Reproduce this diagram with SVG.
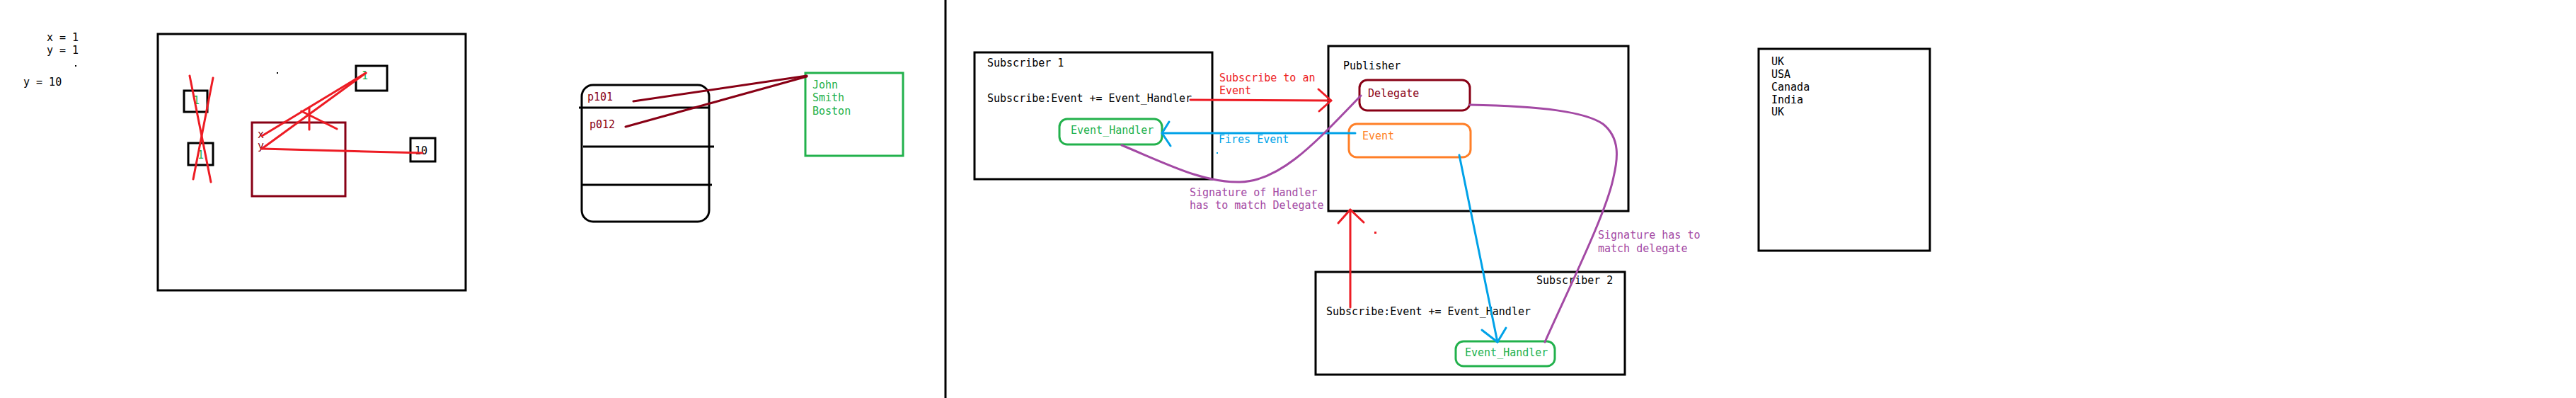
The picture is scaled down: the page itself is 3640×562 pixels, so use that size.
<svg xmlns="http://www.w3.org/2000/svg" width="3640" height="562" viewBox="0 0 3640 562">
<style>
text{font-family:"DejaVu Sans Mono","Liberation Mono",monospace;font-size:15px}
.k{fill:#000}
.r{fill:#ED1C24}
.dr{fill:#880015}
.g{fill:#22B14C}
.o{fill:#FF7F27}
.b{fill:#00A2E8}
.p{fill:#A349A4}
.box{fill:none;stroke:#000;stroke-width:3}
.ln{fill:none;stroke-width:3;stroke-linecap:round;stroke-linejoin:round}
</style>
<rect width="3640" height="562" fill="#fff"/>

<g id="code-left">
<text class="k" x="66" y="58">x = 1</text>
<text class="k" x="66" y="76">y = 1</text>
<rect x="106" y="92" width="2" height="2" fill="#000"/>
<text class="k" x="33" y="121">y = 10</text>
</g>

<g id="memory">
<rect class="box" x="223" y="48" width="435" height="362"/>
<rect x="391" y="102" width="2" height="2" fill="#000"/>
<g id="boxA"><rect class="box" x="260" y="128" width="33" height="30"/><text class="g" x="273" y="147">1</text></g>
<g id="boxB"><rect class="box" x="266" y="202" width="35" height="31"/><text class="g" x="279" y="224">1</text></g>
<g id="boxC"><rect class="box" x="503" y="93" width="44" height="35"/><text class="g" x="511" y="112">1</text></g>
<g id="boxD"><rect class="box" x="580" y="195" width="35" height="33"/><text class="k" x="586" y="218">10</text></g>
<g id="objXY"><rect x="356" y="173" width="132" height="104" fill="none" stroke="#880015" stroke-width="3"/>
<text class="dr" x="364" y="195">x</text><text class="dr" x="364" y="211">y</text></g>
</g>

<g id="stack">
<rect class="box" x="822" y="120" width="180" height="193" rx="16"/>
<line class="box" x1="818" y1="152" x2="1002" y2="152"/>
<line class="box" x1="824" y1="207" x2="1009" y2="207"/>
<line class="box" x1="822" y1="261" x2="1006" y2="261"/>
<text class="dr" x="830" y="142">p101</text>
<text class="dr" x="833" y="181">p012</text>
</g>
<g id="person">
<rect x="1138" y="103" width="138" height="117" fill="none" stroke="#22B14C" stroke-width="3"/>
<text class="g" x="1148" y="125">John</text>
<text class="g" x="1148" y="143">Smith</text>
<text class="g" x="1148" y="162">Boston</text>
</g>

<line x1="1336" y1="0" x2="1336" y2="562" stroke="#000" stroke-width="3"/>

<g id="subscriber1">
<rect class="box" x="1377" y="74" width="336" height="179"/>
<text class="k" x="1395" y="94">Subscriber 1</text>
<text class="k" x="1395" y="144">Subscribe:Event += Event_Handler</text>
</g>
<g id="eh1"><rect x="1497" y="168" width="145" height="36" rx="11" fill="none" stroke="#22B14C" stroke-width="3"/><text class="g" x="1513" y="189">Event_Handler</text></g>

<g id="publisher">
<rect class="box" x="1877" y="65" width="424" height="233"/>
<text class="k" x="1898" y="98">Publisher</text>
</g>
<g id="delegate"><rect x="1921" y="113" width="156" height="43" rx="11" fill="none" stroke="#880015" stroke-width="3"/><text class="dr" x="1933" y="137">Delegate</text></g>
<g id="event"><rect x="1906" y="175" width="172" height="47" rx="11" fill="none" stroke="#FF7F27" stroke-width="3"/><text class="o" x="1925" y="197">Event</text></g>

<g id="subscriber2">
<rect class="box" x="1859" y="384" width="437" height="145"/>
<text class="k" x="2171" y="401">Subscriber 2</text>
<text class="k" x="1874" y="445">Subscribe:Event += Event_Handler</text>
</g>
<g id="eh2"><rect x="2057" y="482" width="140" height="35" rx="11" fill="none" stroke="#22B14C" stroke-width="3"/><text class="g" x="2070" y="503">Event_Handler</text></g>

<g id="countries">
<rect class="box" x="2485" y="69" width="242" height="285"/>
<text class="k" x="2503" y="92">UK</text>
<text class="k" x="2503" y="110">USA</text>
<text class="k" x="2503" y="128">Canada</text>
<text class="k" x="2503" y="146">India</text>
<text class="k" x="2503" y="163">UK</text>
</g>

<g id="connectors">
<g stroke="#ED1C24" class="ln">
<line x1="268" y1="107" x2="298" y2="257"/>
<line x1="301" y1="110" x2="273" y2="253"/>
<line x1="370" y1="192" x2="517" y2="103"/>
<line x1="370" y1="210" x2="517" y2="103"/>
<line x1="370" y1="210" x2="597" y2="216"/>
<line x1="437" y1="152" x2="437" y2="183"/>
<line x1="426" y1="157" x2="476" y2="182"/>
<line x1="1682" y1="141" x2="1881" y2="142"/>
<polyline points="1863,126 1881,142 1864,157"/>
<line x1="1908" y1="434" x2="1908" y2="296"/>
<polyline points="1891,315 1908,296 1927,314"/>
</g>
<g stroke="#880015" class="ln">
<line x1="895" y1="143" x2="1140" y2="107"/>
<line x1="884" y1="179" x2="1140" y2="108"/>
</g>
<g stroke="#00A2E8" class="ln">
<line x1="1915" y1="188" x2="1642" y2="188"/>
<polyline points="1652,172 1642,188 1654,206"/>
<line x1="2062" y1="219" x2="2116" y2="483"/>
<polyline points="2094,466 2116,483 2128,463"/>
</g>
<g stroke="#A349A4" class="ln" stroke-width="2.5">
<path d="M1585,205 C1650,232 1700,258 1752,257 C1810,256 1860,200 1923,135"/>
<path d="M2077,148 C2180,150 2240,158 2265,175 C2290,195 2286,225 2280,250 C2270,300 2220,400 2183,483"/>
</g>
</g>

<g id="labels">
<text class="r" x="1723" y="115">Subscribe to an</text>
<text class="r" x="1723" y="133">Event</text>
<text class="b" x="1722" y="202">Fires Event</text>
<rect x="1719" y="215" width="2" height="2" fill="#00A2E8"/>
<text class="p" x="1681" y="277">Signature of Handler</text>
<text class="p" x="1681" y="295">has to match Delegate</text>
<rect x="1942" y="327" width="3" height="3" fill="#ED1C24"/>
<text class="p" x="2258" y="337">Signature has to</text>
<text class="p" x="2258" y="356">match delegate</text>
</g>
</svg>
